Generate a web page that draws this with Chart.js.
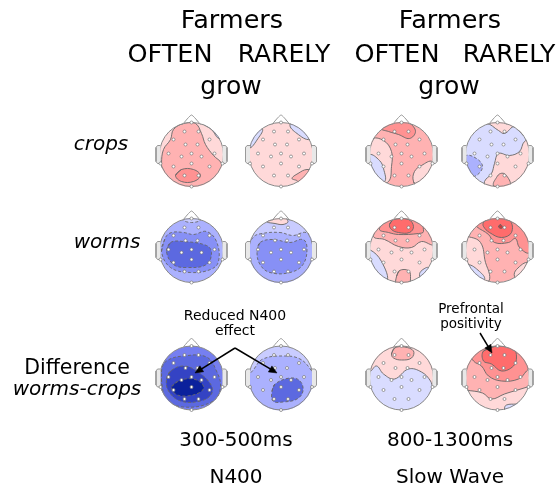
<!DOCTYPE html>
<html>
<head>
<meta charset="utf-8">
<style>
  html, body { margin: 0; background: #fff; }
  canvas { display: block; }
</style>
<script src="https://cdn.jsdelivr.net/npm/chart.js@4/dist/chart.umd.js"></script>
</head>
<body>
<canvas id="chart" width="560" height="489"></canvas>
<script>
// electrode sites, head-relative
const electrodes = [[-7,-23],[7,-23],[-18,-15],[18,-15],[-6,-10],[6,-10],[-23,-1],[-10,2],[0,-1],[10,2],[23,-1],
  [-18,12],[0,9],[18,12],[-7,21],[7,21],[0,32],[0,-32],[-31,9],[31,9]];

const noseLine = [[-9,-30],[-3,-37],[0,-39.5],[3,-37],[9,-30]];
const earLeft = [[-31,-9],[-34,-9],[-35.5,-7],[-35.5,7],[-34,9],[-31,9]];
const earRight = [[31,-9],[34,-9],[35.5,-7],[35.5,7],[34,9],[31,9]];

// contour regions per map: [level, outline]
const cropsOftenN400 = { base: 1, regions: [
  [0, [[36,-25],[20,-38],[10,-33],[20,-25],[28,-16]]],
  [2, [[-30,9],[-29,20],[-15,38],[15,38],[30,20],[30,9],[22,1],[14,-10],[10,-21],[4,-31],[-8,-31],[-18,-25],[-21,-15],[-28,-5]]],
  [3, [[-16,21],[-10,15],[2,15],[9,21],[2,27],[-10,27]]]
]};
const cropsRarelyN400 = { base: 1, regions: [
  [0, [[-40,-30],[-19,-26],[-23,-16],[-32,-7]]],
  [0, [[38,-25],[20,-40],[9,-30],[16,-21],[29,-15]]],
  [2, [[20,38],[36,30],[34,18],[26,15],[17,19],[11,24],[17,27]]]
]};
const wormsOftenN400 = { base: -2, regions: [
  [-1, [[0,-40],[-8,-31],[0,-28],[9,-31]]],
  [-3, [[-30,1],[-26,-13],[-20,-18],[-8,-18],[2,-16],[15,-19],[25,-9],[27,11],[19,19],[-1,22],[-21,17]]],
  [-4, [[-25,1],[-21,-8],[-8,-9],[15,-5],[20,2],[15,14],[-5,17],[-18,14]]]
]};
const wormsRarelyN400 = { base: -1, regions: [
  [-2, [[0,42],[-25,35],[-40,10],[-28,-13],[-19,-17],[-1,-18],[12,-15],[25,-18],[33,-9],[40,10],[25,35]]],
  [-3, [[-24,1],[-21,-8],[-8,-11],[9,-8],[22,-11],[26,-3],[22,14],[9,22],[-11,22],[-21,14]]],
  [1, [[0,-36],[-14,-29],[-6,-27],[2,-26],[7,-29]]]
]};
const diffOftenN400 = { base: -3.5, regions: [
  [-4, [[-28,19],[-30,-7],[-25,-17],[-8,-22],[15,-21],[25,-7],[29,9],[22,23],[-8,29]]],
  [-5, [[-25,1],[-21,-7],[-8,-12],[5,-7],[19,6],[20,16],[9,23],[-11,23],[-23,13]]],
  [-6, [[-20,9],[-13,3],[2,1],[12,8],[9,14],[-5,18],[-16,16]]]
]};
const diffRarelyN400 = { base: -1, regions: [
  [-2, [[0,42],[-25,35],[-40,10],[-27,-9],[-18,-19],[3,-22],[19,-19],[30,-8],[40,10],[25,35]]],
  [-4, [[-9,13],[-6,6],[9,0],[19,3],[22,13],[16,21],[2,24],[-8,23]]]
]};
const cropsOftenSlow = { base: 2, regions: [
  [3, [[0,-38],[-20,-26],[-13,-23],[-3,-20],[8,-16],[14,-23],[8,-32]]],
  [1, [[-40,10],[-30,-15],[-18,-14],[-10,-3],[-10,12],[-13,27],[-25,28]]],
  [0, [[-38,10],[-32,0],[-22,6],[-18,14],[-17,27],[-32,25]]],
  [1, [[20,40],[12,27],[13,17],[20,11],[31,7],[40,20]]]
]};
const cropsRarelySlow = { base: 0, regions: [
  [1, [[0,-42],[-23,-26],[-11,-31],[1,-24],[7,-21],[17,-28],[26,-19]]],
  [1, [[0,42],[-11,34],[-13,27],[-6,19],[-3,9],[1,-1],[12,1],[22,-3],[27,-13],[35,-15],[42,0],[38,36]]],
  [2, [[5,38],[-4,31],[-1,23],[3,19],[8,20],[13,31]]],
  [-2, [[-38,10],[-32,1],[-21,4],[-15,12],[-21,21],[-28,21]]]
]};
const wormsOftenSlow = { base: 1, regions: [
  [2, [[0,-45],[-25,-30],[-28,-14],[-17,-11],[-3,-4],[10,-3],[20,-9],[33,-6],[40,-25]]],
  [3, [[0,-38],[-15,-30],[-22,-21],[-13,-18],[-3,-16],[17,-17],[22,-19],[17,-33]]],
  [4, [[-12,-26],[-8,-31],[7,-31],[12,-24],[8,-18],[-3,-18],[-10,-21]]],
  [0, [[-40,0],[-32,-1],[-20,11],[-15,31],[-38,30]]],
  [2, [[-5,26],[-2,20],[7,20],[9,26],[7,34],[-5,34]]],
  [0, [[35,30],[25,35],[18,24],[25,17],[29,19]]]
]};
const wormsRarelySlow = { base: 2, regions: [
  [3, [[0,-45],[-25,-30],[-21,-24],[-9,-16],[-3,-8],[11,-8],[18,-12],[22,-3],[32,2],[40,-25]]],
  [4, [[-14,-28],[-8,-33],[12,-30],[14,-18],[4,-13],[-8,-18],[-14,-24]]],
  [6, [[1,-24],[3,-26],[5,-23],[3,-22]]],
  [1, [[-40,20],[-40,-14],[-30,-14],[-17,-8],[-12,12],[-8,24],[-9,31],[-20,40]]],
  [0, [[-40,20],[-30,14],[-18,21],[-13,29],[-25,35]]],
  [1, [[40,25],[25,40],[17,26],[19,19],[31,12]]]
]};
const diffOftenSlow = { base: 0, regions: [
  [1, [[-38,-36],[-42,-5],[-32,-6],[-25,-12],[-18,-4],[-7,1],[7,-9],[20,-6],[29,3],[33,14],[42,10],[38,-36]]],
  [2, [[-10,-24],[-7,-30],[3,-31],[12,-27],[10,-20],[0,-18],[-8,-20]]]
]};
const diffRarelySlow = { base: 1, regions: [
  [2, [[-38,-36],[-42,10],[-32,12],[-15,15],[-6,21],[7,16],[20,12],[33,8],[42,5],[38,-36]]],
  [3, [[0,-45],[-30,-30],[-24,-17],[-16,-12],[-9,-2],[4,3],[21,1],[29,-7],[40,-20]]],
  [4, [[-14,-27],[-1,-32],[16,-29],[19,-21],[16,-12],[4,-7],[-6,-14],[-14,-17]]],
  [0, [[30,35],[10,40],[7,31],[9,27],[19,26],[25,25]]]
]};

const topHeaders = ['Farmers', 'OFTEN', 'RARELY', 'grow'];
const rowLabels = ['crops', 'worms'];
const diffLabels = ['Difference', 'worms-crops'];
const windowLabels = ['300-500ms', '800-1300ms'];
const componentLabels = ['N400', 'Slow Wave'];
const noteN400 = ['Reduced N400', 'effect'];
const notePrefrontal = ['Prefrontal', 'positivity'];

// layout
const HEAD_R = 32;
const colX = [191.5, 281, 401.5, 497.5];
const rowY = [154.5, 250.5, 378];
const heads = [
  [cropsOftenN400, 0, 0], [cropsRarelyN400, 1, 0], [cropsOftenSlow, 2, 0], [cropsRarelySlow, 3, 0],
  [wormsOftenN400, 0, 1], [wormsRarelyN400, 1, 1], [wormsOftenSlow, 2, 1], [wormsRarelySlow, 3, 1],
  [diffOftenN400, 0, 2], [diffRarelyN400, 1, 2], [diffOftenSlow, 2, 2], [diffRarelySlow, 3, 2]
];
const levelColors = {
  '-6': '#0b219c', '-5': '#3443c4', '-4': '#5c69e0', '-3.5': '#767ff0', '-3': '#8790f6', '-2': '#abb1fe', '-1': '#c9ccff',
  '0': '#d9dcff', '1': '#ffd9d9', '2': '#ffb2b2', '3': '#ff9292', '4': '#ff6c6c', '6': '#c83a3a'
};
const arrowLines = [
  [[235,348],[195,373]],
  [[235,348],[277,373]],
  [[480,333],[492,353]]
];

const pts = (list, cx, cy) => list.map(p => ({ x: cx + p[0], y: cy + p[1] }));
const datasets = [];

heads.forEach(([map, c, r]) => {
  const cx = colX[c], cy = rowY[r];
  datasets.push({ data: [{ x: cx, y: cy }], showLine: false, pointRadius: HEAD_R, pointBorderWidth: 0,
    pointBackgroundColor: levelColors[map.base] });
  map.regions.forEach(([level, outline]) => {
    // run over the first edge again so the join stays smooth
    const closed = pts(outline.concat([outline[0], outline[1]]), cx, cy);
    datasets.push({ data: closed, pointRadius: 0, tension: 0.4, fill: 'shape',
      backgroundColor: levelColors[level], borderColor: '#666', borderWidth: 0.9,
      borderDash: level < 0 ? [3, 2] : [] });
  });
  // white ring hides whatever spills past the scalp edge
  datasets.push({ data: [{ x: cx, y: cy }], showLine: false, pointRadius: 43.5, pointBorderWidth: 22,
    pointBorderColor: '#fff', pointBackgroundColor: 'rgba(0,0,0,0)' });
});

heads.forEach(([map, c, r]) => {
  const cx = colX[c], cy = rowY[r];
  datasets.push({ data: [{ x: cx, y: cy }], showLine: false, pointRadius: HEAD_R, pointBorderWidth: 1,
    pointBorderColor: '#888', pointBackgroundColor: 'rgba(0,0,0,0)' });
  [earLeft, earRight].forEach(ear => {
    datasets.push({ data: pts(ear, cx, cy), pointRadius: 0, fill: 'shape', backgroundColor: '#e8e8e8',
      borderColor: '#999', borderWidth: 1 });
  });
  datasets.push({ data: pts(noseLine, cx, cy), pointRadius: 0, tension: 0.2, borderColor: '#999', borderWidth: 1 });
  datasets.push({ data: pts(electrodes, cx, cy), showLine: false, pointRadius: 1.5, pointBorderWidth: 0.7,
    pointBorderColor: '#777', pointBackgroundColor: '#fff' });
});

arrowLines.forEach(line => {
  const [a, b] = line;
  const ang = Math.atan2(b[1] - a[1], b[0] - a[0]);
  const back = (len, off) => ({
    x: b[0] - len * Math.cos(ang) - off * Math.sin(ang),
    y: b[1] - len * Math.sin(ang) + off * Math.cos(ang)
  });
  datasets.push({ data: [{ x: a[0], y: a[1] }, back(5, 0)], pointRadius: 0, borderColor: '#000', borderWidth: 1.5 });
  datasets.push({ data: [{ x: b[0], y: b[1] }, back(8, 3.5), back(8, -3.5), { x: b[0], y: b[1] }],
    pointRadius: 0, fill: 'shape', backgroundColor: '#000', borderColor: '#000', borderWidth: 0.5 });
});

// chart.js paints first dataset last
datasets.reverse();

const FONT = '"DejaVu Sans"';
const textLayout = [
  [topHeaders[0], 232, 21, 25.5, ''], [topHeaders[1], 170, 55, 25.5, ''], [topHeaders[2], 284, 55, 25, ''], [topHeaders[3], 231, 87, 25, ''],
  [topHeaders[0], 450, 21, 25.5, ''], [topHeaders[1], 397, 55, 25.5, ''], [topHeaders[2], 509, 55, 25, ''], [topHeaders[3], 449, 87, 25, ''],
  [rowLabels[0], 101, 145, 20, 'italic'], [rowLabels[1], 107, 243, 20, 'italic'],
  [diffLabels[0], 77, 369, 20.5, ''], [diffLabels[1], 77, 390, 20, 'italic'],
  [windowLabels[0], 236, 441, 20, ''], [windowLabels[1], 450, 441, 20, ''],
  [componentLabels[0], 236, 478, 20, ''], [componentLabels[1], 450, 478, 20, ''],
  [noteN400[0], 235, 316, 14, ''], [noteN400[1], 235, 331, 14, ''],
  [notePrefrontal[0], 471, 309, 13.5, ''], [notePrefrontal[1], 471, 324, 13.5, '']
];

const labelsPlugin = {
  id: 'figureText',
  afterDraw(chart) {
    const ctx = chart.ctx;
    ctx.save();
    ctx.fillStyle = '#000';
    ctx.textAlign = 'center';
    ctx.textBaseline = 'middle';
    textLayout.forEach(([text, x, y, size, style]) => {
      ctx.font = `${style} ${size}px ${FONT}`;
      ctx.fillText(text, chart.scales.x.getPixelForValue(x), chart.scales.y.getPixelForValue(y));
    });
    ctx.restore();
  }
};

new Chart(document.getElementById('chart').getContext('2d'), {
  type: 'line',
  data: { datasets },
  plugins: [labelsPlugin],
  options: {
    responsive: false,
    animation: false,
    layout: { padding: 0, autoPadding: false },
    clip: false,
    plugins: { legend: { display: false }, tooltip: { enabled: false } },
    scales: {
      x: { type: 'linear', min: 0, max: 560, display: false },
      y: { type: 'linear', min: 0, max: 489, reverse: true, display: false }
    }
  }
});
</script>
</body>
</html>
